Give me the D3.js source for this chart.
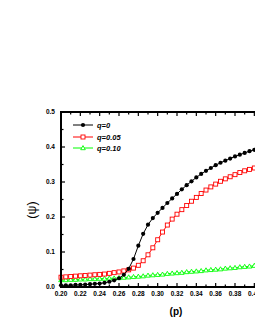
<!DOCTYPE html>
<html>
<head>
<meta charset="utf-8">
<script src="https://cdn.jsdelivr.net/npm/d3@7"></script>
<style>
  body { margin: 0; background: #fff; }
  svg { display: block; }
  text { font-family: Arial, "Liberation Sans", sans-serif; }
</style>
</head>
<body>
<svg id="chart" width="255" height="330"></svg>
<script>
// p values, step 0.005
const pValues = d3.range(41).map(i => +(0.20 + i * 0.005).toFixed(3));

const psiQ0 = [0.005, 0.005, 0.005, 0.006, 0.006, 0.007, 0.008, 0.009, 0.010, 0.012,
  0.015, 0.019, 0.025, 0.035, 0.052, 0.080, 0.118, 0.152, 0.178, 0.197,
  0.212, 0.226, 0.240, 0.253, 0.266, 0.279, 0.291, 0.302, 0.313, 0.323,
  0.332, 0.340, 0.348, 0.355, 0.361, 0.367, 0.373, 0.378, 0.383, 0.388, 0.392];

const psiQ005 = [0.028, 0.029, 0.030, 0.031, 0.032, 0.033, 0.034, 0.035, 0.036, 0.037,
  0.039, 0.041, 0.043, 0.046, 0.049, 0.054, 0.062, 0.075, 0.092, 0.112,
  0.135, 0.157, 0.177, 0.194, 0.208, 0.221, 0.233, 0.245, 0.256, 0.267,
  0.277, 0.286, 0.294, 0.302, 0.309, 0.315, 0.321, 0.327, 0.332, 0.336, 0.340];

const psiQ010 = [0.020, 0.020, 0.021, 0.021, 0.022, 0.022, 0.023, 0.023, 0.024, 0.024,
  0.025, 0.025, 0.026, 0.027, 0.028, 0.029, 0.030, 0.031, 0.033, 0.034,
  0.035, 0.036, 0.038, 0.039, 0.040, 0.041, 0.043, 0.044, 0.045, 0.046,
  0.048, 0.049, 0.050, 0.051, 0.053, 0.054, 0.055, 0.057, 0.058, 0.059, 0.061];

const seriesNames = ["q=0", "q=0.05", "q=0.10"];
const xTicks = [0.20, 0.22, 0.24, 0.26, 0.28, 0.30, 0.32, 0.34, 0.36, 0.38, 0.40];
const yTicks = [0.0, 0.1, 0.2, 0.3, 0.4, 0.5];

const svg = d3.select("#chart");
const plotL = 61, plotT = 112, plotB = 287, plotR = 293;

const x = d3.scaleLinear().domain([0.20, 0.44]).range([plotL, plotR]);
const y = d3.scaleLinear().domain([0, 0.5]).range([plotB, plotT]);

const series = [
  { name: seriesNames[0], values: psiQ0, color: "#000", symbol: "circle" },
  { name: seriesNames[1], values: psiQ005, color: "#ff0000", symbol: "square" },
  { name: seriesNames[2], values: psiQ010, color: "#00ff00", symbol: "triangle" }
];

function drawMarker(sel, s, cx, cy) {
  if (s.symbol === "circle") {
    sel.append("circle").attr("cx", cx).attr("cy", cy).attr("r", 2.1).attr("fill", s.color);
  } else if (s.symbol === "square") {
    sel.append("rect").attr("x", cx - 2).attr("y", cy - 2).attr("width", 4).attr("height", 4)
      .attr("fill", "#fff").attr("stroke", s.color).attr("stroke-width", 0.9);
  } else {
    sel.append("path")
      .attr("d", `M${cx},${cy - 2.4}L${cx + 2.3},${cy + 1.7}L${cx - 2.3},${cy + 1.7}Z`)
      .attr("fill", "#fff").attr("stroke", s.color).attr("stroke-width", 0.9);
  }
}

// series (green first so black ends on top)
const line = d3.line().x((d, i) => x(pValues[i])).y(d => y(d));
[series[2], series[1], series[0]].forEach(s => {
  const g = svg.append("g");
  g.append("path").datum(s.values).attr("d", line)
    .attr("fill", "none").attr("stroke", s.color).attr("stroke-width", 1);
  s.values.forEach((v, i) => drawMarker(g, s, x(pValues[i]), y(v)));
});

// axes, ticks pointing inward
const axisG = svg.append("g");
const xMinor = d3.range(25).map(i => 0.20 + i * 0.01);
const yMinor = d3.range(11).map(i => i * 0.05);

xMinor.forEach((t, i) => {
  const len = i % 2 === 0 ? 4 : 2.5;
  axisG.append("line").attr("x1", x(t)).attr("x2", x(t)).attr("y1", plotB).attr("y2", plotB - len)
    .attr("stroke", "#000").attr("stroke-width", 1.2);
  axisG.append("line").attr("x1", x(t)).attr("x2", x(t)).attr("y1", plotT).attr("y2", plotT + len)
    .attr("stroke", "#000").attr("stroke-width", 1.2);
});
yMinor.forEach((t, i) => {
  const len = i % 2 === 0 ? 4 : 2.5;
  axisG.append("line").attr("x1", plotL).attr("x2", plotL + len).attr("y1", y(t)).attr("y2", y(t))
    .attr("stroke", "#000").attr("stroke-width", 1.2);
});

axisG.append("line").attr("x1", plotL).attr("x2", plotR).attr("y1", plotB).attr("y2", plotB)
  .attr("stroke", "#000").attr("stroke-width", 2);
axisG.append("line").attr("x1", plotL).attr("x2", plotR).attr("y1", plotT).attr("y2", plotT)
  .attr("stroke", "#000").attr("stroke-width", 2);
axisG.append("line").attr("x1", plotL).attr("x2", plotL).attr("y1", plotT - 1).attr("y2", plotB + 1)
  .attr("stroke", "#000").attr("stroke-width", 2);

xTicks.forEach(t => {
  svg.append("text").attr("x", x(t)).attr("y", 296)
    .attr("text-anchor", "middle").attr("font-size", 6.5).attr("font-weight", "bold")
    .text(d3.format(".2f")(t));
});
yTicks.forEach(t => {
  svg.append("text").attr("x", 55).attr("y", y(t) + 2.3)
    .attr("text-anchor", "end").attr("font-size", 6.5).attr("font-weight", "bold")
    .text(d3.format(".1f")(t));
});

// axis titles
svg.append("text").attr("x", 176).attr("y", 315).attr("text-anchor", "middle")
  .attr("font-size", 10).attr("font-weight", "bold").text("(p)");
svg.append("text").attr("transform", "translate(36,210) rotate(-90)").attr("text-anchor", "middle")
  .attr("font-size", 12.5).text("(ψ)");

// legend
const legendY = [125, 137, 148];
series.forEach((s, i) => {
  const g = svg.append("g");
  g.append("line").attr("x1", 73).attr("x2", 93).attr("y1", legendY[i]).attr("y2", legendY[i])
    .attr("stroke", s.color).attr("stroke-width", 1);
  drawMarker(g, s, 83, legendY[i]);
  g.append("text").attr("x", 97).attr("y", legendY[i] + 2.7)
    .attr("font-size", 7.5).attr("font-weight", "bold").attr("font-style", "italic")
    .text(s.name);
});
</script>
</body>
</html>
